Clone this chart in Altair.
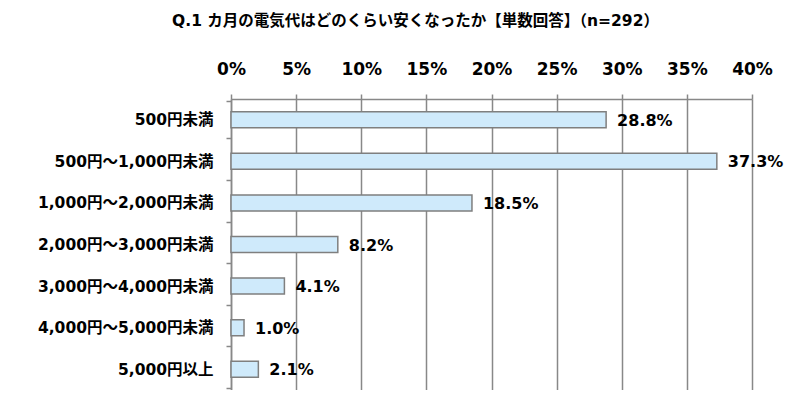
import altair as alt
import pandas as pd

categories = ["500円未満", "500円～1,000円未満", "1,000円～2,000円未満", "2,000円～3,000円未満",
              "3,000円～4,000円未満", "4,000円～5,000円未満", "5,000円以上"]
values = [28.8, 37.3, 18.5, 8.2, 4.1, 1.0, 2.1]
x_ticks = [0, 5, 10, 15, 20, 25, 30, 35, 40]
title_text = "Q.1 カ月の電気代はどのくらい安くなったか【単数回答】（n=292）"

df = pd.DataFrame({"cat": categories, "val": values,
                   "label": [f"{v:.1f}%" for v in values]})

FONT = "DejaVu Sans, Noto Sans CJK JP"
GRID = "#888888"

x = alt.X("val:Q", scale=alt.Scale(domain=[0, 40], nice=False),
          axis=alt.Axis(orient="top", values=x_ticks, labelExpr="datum.value + '%'",
                        title=None, grid=True, gridColor=GRID, gridOpacity=1, gridWidth=1.5,
                        domainColor=GRID, domainWidth=1.5, tickColor=GRID, tickWidth=1.5, tickSize=5,
                        labelFlush=False, labelOverlap=False,
                        labelFont=FONT, labelFontSize=17, labelFontWeight="bold",
                        labelColor="#000000", labelPadding=16))
y = alt.Y("cat:N", sort=categories,
          axis=alt.Axis(title=None, tickBand="extent", domainColor=GRID, domainWidth=1.5,
                        tickColor=GRID, tickWidth=1.5, tickSize=5, labelLimit=400,
                        labelFont=FONT, labelFontSize=15.5, labelFontWeight="bold",
                        labelColor="#000000", labelPadding=13))

bars = alt.Chart(df).mark_bar(size=16, fill="#cfeafb", stroke="#7f7f7f", strokeWidth=1.5).encode(x=x, y=y)
texts = alt.Chart(df).mark_text(align="left", baseline="middle", dx=11, dy=1, font=FONT,
                                fontSize=16, fontWeight="bold", color="#000000").encode(
    x="val:Q", y=alt.Y("cat:N", sort=categories), text="label:N")

chart = alt.layer(bars, texts).properties(
    width=521, height=291,
    autosize=alt.AutoSizeParams(type="none"),
    padding={"left": 223, "top": 91, "right": 38, "bottom": 0},
    title=alt.TitleParams(title_text, font=FONT, fontSize=15.5, fontWeight="bold", color="#000000",
                          anchor="middle", dx=-76, offset=31),
).configure_view(stroke=None)

chart.save("out.html", embed_options={"renderer": "svg", "actions": False})
